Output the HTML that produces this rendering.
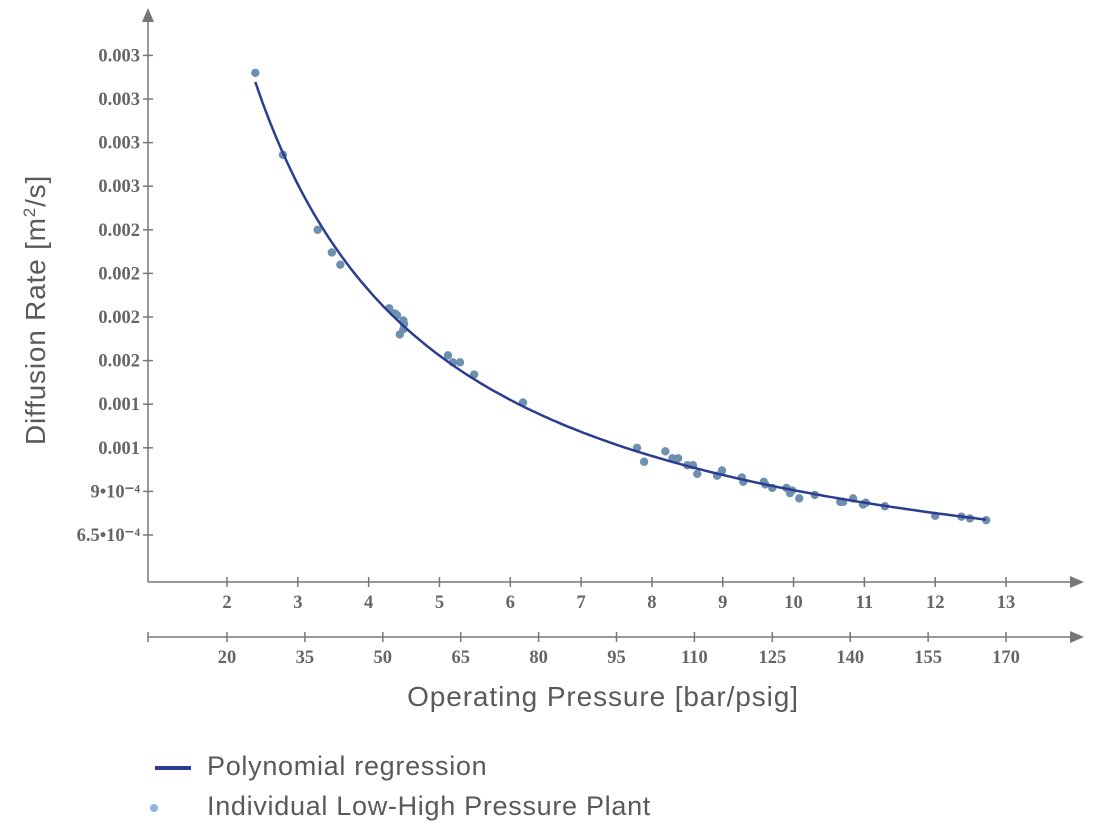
<!DOCTYPE html>
<html><head><meta charset="utf-8"><style>
body{margin:0;background:#fff;width:1100px;height:836px;overflow:hidden}
svg{display:block}
.tk{font-family:"Liberation Serif",serif;font-weight:bold;font-size:18.5px;fill:#666}
</style></head><body>
<svg id="c" width="1100" height="836"></svg>
<script>
const xTicks=[2,3,4,5,6,7,8,9,10,11,12,13];
const x2TickLabels=["20","35","50","65","80","95","110","125","140","155","170"];
const yTickVals=[6.5e-4,9e-4,1.15e-3,1.4e-3,1.65e-3,1.9e-3,2.15e-3,2.4e-3,2.65e-3,2.9e-3,3.15e-3,3.4e-3];
const yTickLabels=["6.5•10⁻⁴","9•10⁻⁴","0.001","0.001","0.002","0.002","0.002","0.002","0.003","0.003","0.003","0.003"];
const ptX=[2.4,2.79,3.28,3.48,3.6,4.29,4.37,4.4,4.49,4.5,4.44,4.49,5.12,5.19,5.29,5.49,6.18,7.79,7.89,8.19,8.29,8.37,8.5,8.58,8.64,8.92,8.99,9.27,9.29,9.58,9.6,9.7,9.9,9.95,9.98,10.08,10.3,10.66,10.7,10.84,10.98,11.02,11.29,12.0,12.37,12.49,12.72];
const ptY=[3.3e-3,2.83e-3,2.4e-3,2.27e-3,2.2e-3,1.95e-3,1.92e-3,1.91e-3,1.88e-3,1.86e-3,1.8e-3,1.83e-3,1.68e-3,1.64e-3,1.64e-3,1.57e-3,1.41e-3,1.15e-3,1.07e-3,1.13e-3,1.09e-3,1.09e-3,1.05e-3,1.05e-3,1.0e-3,9.9e-4,1.02e-3,9.8e-4,9.55e-4,9.55e-4,9.4e-4,9.2e-4,9.2e-4,8.9e-4,9.05e-4,8.6e-4,8.8e-4,8.4e-4,8.4e-4,8.6e-4,8.25e-4,8.35e-4,8.15e-4,7.6e-4,7.55e-4,7.45e-4,7.35e-4];
const sx=v=>227+(v-2)*70.82;
const sy=v=>535-(v-6.5e-4)/2.5e-4*43.6;
const svg=document.getElementById('c');const NS="http://www.w3.org/2000/svg";
function mk(t,a,p){const e=document.createElementNS(NS,t);for(const k in a)e.setAttribute(k,a[k]);(p||svg).appendChild(e);return e;}
let e;
e=mk('line',{x1:148,y1:582,x2:148,y2:18,stroke:'#777','stroke-width':1.5});


e=mk('polygon',{points:'142,22 154,22 148,8',fill:'#777'});


e=mk('line',{x1:148,y1:582,x2:1072,y2:582,stroke:'#777','stroke-width':1.5});


e=mk('polygon',{points:'1070,576 1070,588 1084,582',fill:'#777'});


e=mk('line',{x1:148,y1:637,x2:1072,y2:637,stroke:'#777','stroke-width':1.5});


e=mk('polygon',{points:'1070,631 1070,643 1084,637',fill:'#777'});


mk('line',{x1:148,y1:632,x2:148,y2:642,stroke:'#777','stroke-width':1.5});
yTickVals.forEach((v,i)=>{const y=sy(v);
 mk('line',{x1:143,y1:y,x2:153,y2:y,stroke:'#777','stroke-width':1.5});
 const t=mk('text',{x:140,y:y+6,'text-anchor':'end',class:'tk'});t.textContent=yTickLabels[i];
 
 });
xTicks.forEach((v,i)=>{const x=sx(v);
 mk('line',{x1:x,y1:577,x2:x,y2:587,stroke:'#777','stroke-width':1.5});
 const t=mk('text',{x:x,y:608,'text-anchor':'middle',class:'tk'});t.textContent=v;
 
 });
x2TickLabels.forEach((l,i)=>{const x=sx(2+i*1.1);
 mk('line',{x1:x,y1:632,x2:x,y2:642,stroke:'#777','stroke-width':1.5});
 const t=mk('text',{x:x,y:663,'text-anchor':'middle',class:'tk'});t.textContent=l;
 
 });
(function(){let M=[[0,0,0],[0,0,0],[0,0,0]],R=[0,0,0];
ptX.forEach((x,i)=>{const f=[1,1/x,1/(x*x)];for(let r=0;r<3;r++){R[r]+=f[r]*ptY[i];for(let c=0;c<3;c++)M[r][c]+=f[r]*f[c];}});
for(let i=0;i<3;i++){for(let j=i+1;j<3;j++){const m=M[j][i]/M[i][i];for(let k=0;k<3;k++)M[j][k]-=m*M[i][k];R[j]-=m*R[i];}}
const s=[0,0,0];for(let i=2;i>=0;i--){let v=R[i];for(let k=i+1;k<3;k++)v-=M[i][k]*s[k];s[i]=v/M[i][i];}
const x0=Math.min(...ptX),x1=Math.max(...ptX);let d='';
for(let k=0;k<=200;k++){const x=x0+(x1-x0)*k/200;const y=s[0]+s[1]/x+s[2]/(x*x);d+=(k?'L':'M')+sx(x).toFixed(1)+','+sy(y).toFixed(1);}
ptX.forEach((x,i)=>{const c=mk('circle',{cx:sx(x),cy:sy(ptY[i]),r:4.2,fill:'#6f8fae'});
 
 });
const p=mk('path',{d:d,fill:'none',stroke:'#2b3d91','stroke-width':2.5});

})();
</script>
<div style="position:absolute;left:0;top:0;width:1100px;height:836px;pointer-events:none">
<div style="position:absolute;left:36px;top:310px;transform:translate(-50%,-50%) rotate(-90deg);white-space:nowrap;font:28px 'Liberation Sans',sans-serif;letter-spacing:0.8px;color:#5a5a5a">Diffusion Rate [m<sup style="font-size:17px">2</sup>/s]</div>
<div style="position:absolute;left:603px;top:697px;transform:translate(-50%,-50%);white-space:nowrap;font:28px 'Liberation Sans',sans-serif;letter-spacing:0.9px;color:#5a5a5a">Operating Pressure [bar/psig]</div>
<div style="position:absolute;left:155px;top:751px;font:27px 'Liberation Sans',sans-serif;letter-spacing:0.7px;color:#5a5a5a;white-space:nowrap"><span style="display:inline-block;width:36px;height:4px;background:#2b3d91;vertical-align:middle;margin-right:16px"></span>Polynomial regression</div>
<div style="position:absolute;left:150px;top:791px;font:27px 'Liberation Sans',sans-serif;letter-spacing:0.7px;color:#5a5a5a;white-space:nowrap"><span style="display:inline-block;width:8px;height:8px;border-radius:50%;background:#8fb3d9;vertical-align:middle;margin-right:49px"></span>Individual Low-High Pressure Plant</div>
</div>
</body></html>
